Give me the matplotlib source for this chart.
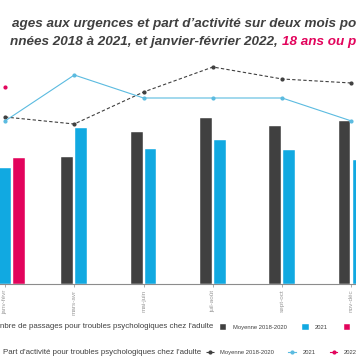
import numpy as np
import matplotlib
matplotlib.use("Agg")
from matplotlib import pyplot as plt

plt.rcParams['font.family'] = ['Liberation Sans', 'DejaVu Sans']

# ============ data ====================
mois = ["janv-févr", "mars-avr", "mai-juin", "juil-août", "sept-oct", "nov-déc"]

# nombre de passages (barres)
passages_moy = [12500, 12700, 15200, 16600, 15800, 16300]
passages_2021 = [11600, 15600, 13500, 14400, 13400, 12400]
passages_2022 = [12600, np.nan, np.nan, np.nan, np.nan, np.nan]

# part d'activité en % (courbes)
part_moy = [1.67, 1.60, 1.92, 2.17, 2.05, 2.01]
part_2021 = [1.63, 2.09, 1.86, 1.86, 1.86, 1.63]
part_2022 = [1.97, np.nan, np.nan, np.nan, np.nan, np.nan]
# ======================================

GRIS = '#404040'
BLEU = '#11A9E1'
BLEU_L = '#5BBBE0'
ROSE = '#E2045C'
TITRE_FS = 9.7

fig = plt.figure(figsize=(3.56, 3.64), dpi=100)
ax = fig.add_axes([0, 80 / 364, 1, 244 / 364])
ax2 = ax.twinx()
ax2.set_position(ax.get_position())

x = np.arange(len(mois))
series = [(passages_moy, GRIS, 'Moyenne 2018-2020'),
          (passages_2021, BLEU, '2021'),
          (passages_2022, ROSE, '2022')]
step = 0.2
width = 0.17
bar_handles = {}
for i in x:
    present = [s for s in series if not np.isnan(s[0][i])]
    n = len(present)
    for k, (vals, col, lab) in enumerate(present):
        off = (k - (n - 1) / 2) * step
        b = ax.bar(i + off, vals[i], width, color=col, edgecolor='white', linewidth=0.3)
        bar_handles[lab] = b

ax.set_xlim(-0.072, 5.065)
ax.set_ylim(0, 24400)
ax2.set_ylim(0, 2.44)

l1, = ax2.plot(x, part_moy, color=GRIS, linestyle=(0, (3, 2)), linewidth=0.8,
               marker='o', markersize=2)
l2, = ax2.plot(x, part_2021, color=BLEU_L, linewidth=0.8, marker='o', markersize=2)
l3, = ax2.plot(x, part_2022, color=ROSE, linewidth=0.8, marker='o', markersize=2)

for a in (ax, ax2):
    for s in ('top', 'left', 'right'):
        a.spines[s].set_visible(False)
    a.set_yticks([])
ax2.spines['bottom'].set_visible(False)
ax.spines['bottom'].set_color('#8c8c8c')
ax.spines['bottom'].set_linewidth(0.8)
ax.set_xticks(x)
ax.set_xticklabels(mois, rotation=90, fontsize=4.6, color='#9a9a9a')
ax.tick_params(axis='x', length=2, width=0.5, color='#8c8c8c', pad=2)

# titre
fig.text(12 / 356, 1 - 24 / 364, "ages aux urgences et part d\u2019activité sur deux mois pour troubles psychologiques,",
         fontsize=TITRE_FS, fontweight='bold', fontstyle='italic', color=GRIS, va='center', ha='left')
t2 = fig.text(10 / 356, 1 - 42 / 364, "nnées 2018 à 2021, et janvier-février 2022, ",
              fontsize=TITRE_FS, fontweight='bold', fontstyle='italic', color=GRIS, va='center', ha='left')
fig.canvas.draw()
bb = t2.get_window_extent()
fig.text(bb.x1 / fig.bbox.width, 1 - 42 / 364, "18 ans ou plus",
         fontsize=TITRE_FS, fontweight='bold', fontstyle='italic', color=ROSE, va='center', ha='left')

# légendes
fig.text(0, 1 - 327 / 364, "nbre de passages pour troubles psychologiques chez l'adulte",
         fontsize=5.65, color=GRIS, va='center', ha='left')
fig.text(3 / 356, 1 - 352 / 364, "Part d'activité pour troubles psychologiques chez l'adulte",
         fontsize=5.65, color=GRIS, va='center', ha='left')

leg1 = fig.legend([bar_handles['Moyenne 2018-2020'], bar_handles['2021'], bar_handles['2022']],
                  ['Moyenne 2018-2020', '2021', '2022'], ncol=3, frameon=False,
                  loc='center left', bbox_to_anchor=(220 / 356, 1 - 327 / 364),
                  fontsize=4.25, handlelength=1.1, handleheight=1.1, handletextpad=1.1,
                  columnspacing=2.6, borderpad=0, borderaxespad=0, labelcolor=GRIS)
leg2 = fig.legend([l1, l2, l3], ['Moyenne 2018-2020', '2021', '2022'], ncol=3, frameon=False,
                  loc='center left', bbox_to_anchor=(206 / 356, 1 - 352 / 364),
                  fontsize=4.25, handlelength=1.3, handletextpad=1.1,
                  columnspacing=2.4, borderpad=0, borderaxespad=0, labelcolor=GRIS)

fig.savefig('out.png', dpi=100, facecolor='white')
